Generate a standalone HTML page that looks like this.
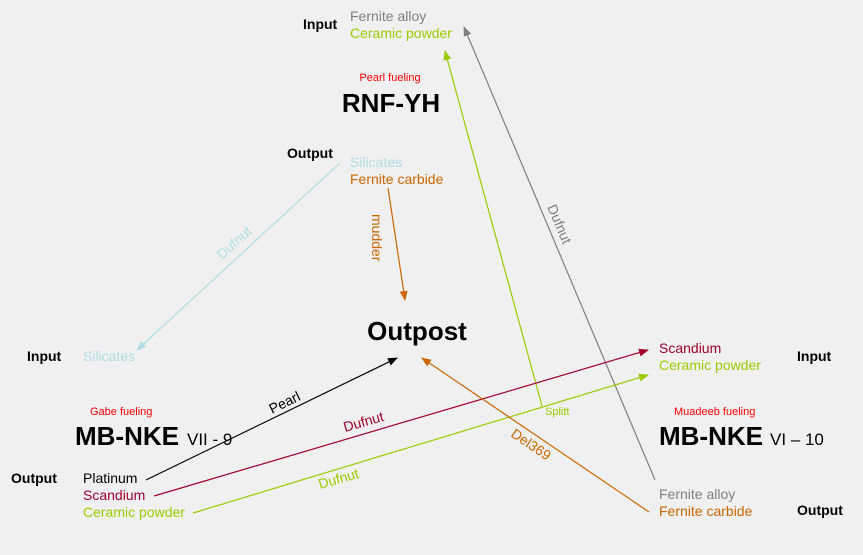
<!DOCTYPE html>
<html><head><meta charset="utf-8"><style>
html,body{margin:0;padding:0;background:#f0f0f0}
svg{display:block}
text{font-family:"Liberation Sans",sans-serif}
.b{font-weight:bold;font-size:14px;fill:#000}
.t{font-size:14px}
.f{font-size:11px;fill:#ff0000}
.big{font-weight:bold;font-size:26px;fill:#000}
</style></head><body>
<svg width="863" height="555" viewBox="0 0 863 555" xmlns="http://www.w3.org/2000/svg">
<defs>
<marker id="mg" markerWidth="10" markerHeight="8" refX="9" refY="4" orient="auto" markerUnits="userSpaceOnUse"><path d="M0,0L10,4L0,8z" fill="#808080"/></marker>
<marker id="mgr" markerWidth="10" markerHeight="8" refX="9" refY="4" orient="auto" markerUnits="userSpaceOnUse"><path d="M0,0L10,4L0,8z" fill="#99cc00"/></marker>
<marker id="mr" markerWidth="10" markerHeight="8" refX="9" refY="4" orient="auto" markerUnits="userSpaceOnUse"><path d="M0,0L10,4L0,8z" fill="#a0002a"/></marker>
<marker id="mk" markerWidth="10" markerHeight="8" refX="9" refY="4" orient="auto" markerUnits="userSpaceOnUse"><path d="M0,0L10,4L0,8z" fill="#000"/></marker>
<marker id="mo" markerWidth="10" markerHeight="8" refX="9" refY="4" orient="auto" markerUnits="userSpaceOnUse"><path d="M0,0L10,4L0,8z" fill="#cc6600"/></marker>
<marker id="mb" markerWidth="10" markerHeight="8" refX="9" refY="4" orient="auto" markerUnits="userSpaceOnUse"><path d="M0,0L10,4L0,8z" fill="#b0dde4"/></marker>
</defs>
<line x1="655" y1="480" x2="464" y2="27" stroke="#808080" stroke-width="1.2" marker-end="url(#mg)"/>
<line x1="542" y1="406" x2="445" y2="51" stroke="#99cc00" stroke-width="1.2" marker-end="url(#mgr)"/>
<line x1="193" y1="513" x2="648" y2="375" stroke="#99cc00" stroke-width="1.2" marker-end="url(#mgr)"/>
<line x1="154" y1="496" x2="648" y2="350" stroke="#a0002a" stroke-width="1.2" marker-end="url(#mr)"/>
<line x1="146" y1="480" x2="397" y2="358" stroke="#000" stroke-width="1.2" marker-end="url(#mk)"/>
<line x1="388" y1="188" x2="405" y2="300" stroke="#cc6600" stroke-width="1.2" marker-end="url(#mo)"/>
<line x1="649" y1="512" x2="422" y2="358" stroke="#cc6600" stroke-width="1.2" marker-end="url(#mo)"/>
<line x1="340" y1="163" x2="137" y2="350" stroke="#b0dde4" stroke-width="1.2" marker-end="url(#mb)"/>
<text class="t" fill="#808080" transform="translate(547,207) rotate(67)">Dufnut</text>
<text class="t" fill="#cc6600" transform="translate(372,214) rotate(90)">mudder</text>
<text class="t" fill="#b0dde4" transform="translate(222,260) rotate(-42)">Dufnut</text>
<text class="t" fill="#000" transform="translate(272,414) rotate(-26)">Pearl</text>
<text class="t" fill="#a0002a" transform="translate(345,432) rotate(-16)">Dufnut</text>
<text class="t" fill="#99cc00" transform="translate(320,489) rotate(-16)">Dufnut</text>
<text class="t" fill="#cc6600" transform="translate(510,436) rotate(34)">Del369</text>
<text font-size="11" fill="#99cc00" x="545" y="415">Splitt</text>
<text class="b" x="303" y="29">Input</text>
<text class="t" fill="#808080" x="350" y="21">Fernite alloy</text>
<text class="t" fill="#99cc00" x="350" y="38">Ceramic powder</text>
<text class="f" x="390" y="81" text-anchor="middle">Pearl fueling</text>
<text class="big" x="391" y="112" text-anchor="middle">RNF-YH</text>
<text class="b" x="287" y="158">Output</text>
<text class="t" fill="#b0dde4" x="350" y="167">Silicates</text>
<text class="t" fill="#cc6600" x="350" y="184">Fernite carbide</text>
<text class="big" x="417" y="340" text-anchor="middle">Outpost</text>
<text class="b" x="27" y="361">Input</text>
<text class="t" fill="#b0dde4" x="83" y="361">Silicates</text>
<text class="f" x="90" y="415">Gabe fueling</text>
<text class="big" x="75" y="445">MB-NKE</text>
<text font-size="17" fill="#000" x="187" y="445">VII - 9</text>
<text class="b" x="11" y="483">Output</text>
<text class="t" fill="#000" x="83" y="483">Platinum</text>
<text class="t" fill="#a0002a" x="83" y="500">Scandium</text>
<text class="t" fill="#99cc00" x="83" y="517">Ceramic powder</text>
<text class="t" fill="#a0002a" x="659" y="353">Scandium</text>
<text class="t" fill="#99cc00" x="659" y="370">Ceramic powder</text>
<text class="b" x="797" y="361">Input</text>
<text class="f" x="674" y="415">Muadeeb fueling</text>
<text class="big" x="659" y="445">MB-NKE</text>
<text font-size="17" fill="#000" x="770" y="445">VI – 10</text>
<text class="t" fill="#808080" x="659" y="499">Fernite alloy</text>
<text class="t" fill="#cc6600" x="659" y="516">Fernite carbide</text>
<text class="b" x="797" y="515">Output</text>
</svg>
</body></html>
